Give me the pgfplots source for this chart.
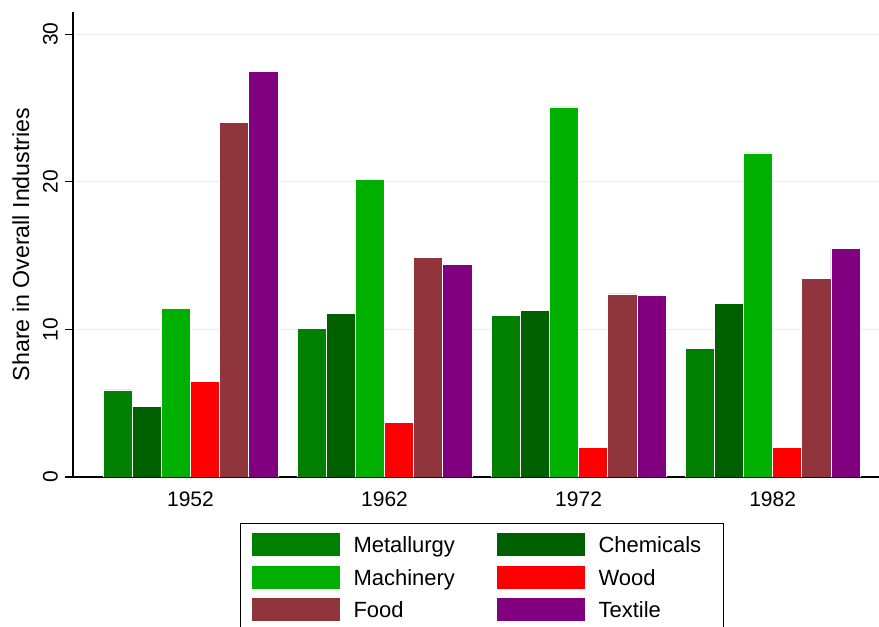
\documentclass[border=0pt]{standalone}
\usepackage{pgfplots}
\pgfplotsset{compat=1.18}
\usepackage{fontspec}
\setmainfont{Liberation Sans}

\definecolor{metal}{RGB}{0,128,0}
\definecolor{chem}{RGB}{0,96,0}
\definecolor{mach}{RGB}{0,176,0}
\definecolor{wood}{RGB}{255,0,0}
\definecolor{food}{RGB}{144,53,59}
\definecolor{textile}{RGB}{128,0,128}

% grid behind the bars, axis line in front of them
\pgfplotsset{
  layers/gridback/.define layer set={
    axis background,axis grid,main,axis ticks,axis lines,
    axis tick labels,axis descriptions,axis foreground}{},
}

\begin{document}
\begin{tikzpicture}
\begin{axis}[
  set layers=gridback,
  at={(36.5pt,75pt)}, anchor=south west,
  scale only axis, width=403pt, height=232.5pt,
  ybar=0pt, bar width=0.15,
  xmin=-0.6055, xmax=3.548, ymin=0, ymax=31.5,
  axis lines*=left, axis line style={line width=0.6pt, black},
  xtick={0,1,2,3}, xticklabels={1952,1962,1972,1982},
  xtick style={draw=none},
  ytick={0,10,20,30},
  tick align=outside, major tick length=4pt,
  ytick style={line width=0.6pt, black},
  ymajorgrids, grid style={black!8, line width=0.6pt},
  /pgf/number format/assume math mode=true,
  tick label style={font=\fontsize{10.5}{12}\selectfont},
  yticklabel style={rotate=90, anchor=south},
  ylabel={Share in Overall Industries},
  ylabel style={font=\fontsize{11.6}{13}\selectfont},
  every axis plot/.append style={draw=white, line width=0.3pt},
  legend columns=2,
  legend cell align=left,
  legend image code/.code={\draw[#1, draw=none] (0pt,-5.75pt) rectangle (44pt,5.75pt);},
  legend style={at={(0.2072,-0.0983)}, anchor=north west,
    draw=black, line width=0.5pt, inner xsep=5.5pt, inner ysep=5pt,
    font=\fontsize{11}{13}\selectfont,
    column sep=7pt, row sep=4.75pt,
    nodes={inner sep=0pt, text height=9.5pt, text depth=1.5pt, text width=57pt, align=left},
    /tikz/every even column/.append style={column sep=14.5pt}},
]
\addplot[fill=metal] coordinates {(0,5.9) (1,10.07) (2,10.95) (3,8.69)};
\addlegendentry{Metallurgy}
\addplot[fill=chem] coordinates {(0,4.8) (1,11.08) (2,11.29) (3,11.78)};
\addlegendentry{Chemicals}
\addplot[fill=mach] coordinates {(0,11.4) (1,20.16) (2,25.07) (3,21.96)};
\addlegendentry{Machinery}
\addplot[fill=wood] coordinates {(0,6.45) (1,3.68) (2,1.98) (3,2.0)};
\addlegendentry{Wood}
\addplot[fill=food] coordinates {(0,24.0) (1,14.85) (2,12.41) (3,13.45)};
\addlegendentry{Food}
\addplot[fill=textile] coordinates {(0,27.5) (1,14.4) (2,12.32) (3,15.48)};
\addlegendentry{Textile}
\end{axis}
\pgfresetboundingbox
\path[use as bounding box] (0,0) rectangle (439.5pt,313.5pt);
\end{tikzpicture}
\end{document}
